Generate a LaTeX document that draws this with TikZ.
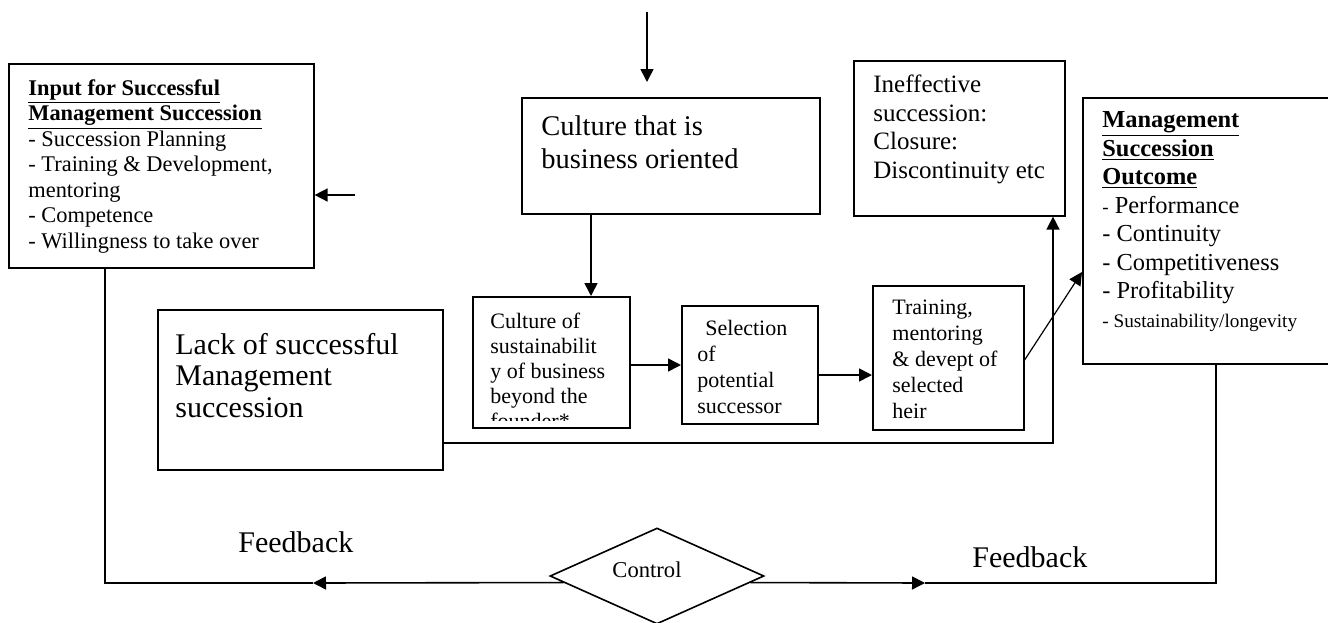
\documentclass[tikz,border=0pt]{standalone}
\usepackage{fontspec}
\setmainfont{Liberation Serif}
\usetikzlibrary{shapes.geometric,arrows.meta}
\begin{document}
\begin{tikzpicture}[x=0.5pt,y=-0.5pt,
  box/.style={draw, line width=0.8pt, inner sep=0pt, anchor=north west},
  txt/.style={anchor=base west, align=left, inner sep=0pt},
  arr/.style={line width=0.8pt, -{Triangle[length=6.5pt,width=6.5pt]}},
  ln/.style={line width=0.8pt},
  fsmall/.style={font=\fontsize{11.2pt}{12.75pt}\selectfont},
  fbig/.style={font=\fontsize{15pt}{15.75pt}\selectfont}]
\useasboundingbox (0,0) rectangle (1328,622);
\clip (0,0) rectangle (1328,622);
% boxes
\node[box, minimum width=152.5pt, minimum height=102pt] (input) at (8,63) {};
\node[box, minimum width=149pt, minimum height=58pt] (culture) at (521,97) {};
\node[box, minimum width=105.5pt, minimum height=77.5pt] (ineff) at (853,60) {};
\node[box, minimum width=132pt, minimum height=133pt] (outcome) at (1082,97) {};
\node[box, minimum width=142.5pt, minimum height=80pt] (lack) at (157,309) {};
\node[box, minimum width=78.5pt, minimum height=65.5pt] (sust) at (472,296) {};
\node[box, minimum width=68pt, minimum height=59pt] (sel) at (681,305) {};
\node[box, minimum width=75.5pt, minimum height=72pt] (train) at (872,285) {};
\node[draw, diamond, line width=0.8pt, minimum width=107pt, minimum height=48pt, inner sep=0pt] (dia) at (657,576) {};
% texts (anchored at the baseline of their last line)
\node[txt, fsmall] (inputT) at (28,248) {\textbf{\underline{Input for Successful}}\\\textbf{\underline{Management Succession}}\\- Succession Planning\\- Training \& Development,\\mentoring\\- Competence\\- Willingness to take over};
\node[txt, font=\fontsize{14.25pt}{16.5pt}\selectfont] (cultureT) at (541,168) {Culture that is\\business oriented};
\node[txt, font=\fontsize{12.5pt}{14.25pt}\selectfont] (ineffT) at (873,178) {Ineffective\\succession:\\Closure:\\Discontinuity etc};
\node[txt, font=\fontsize{12.2pt}{14.25pt}\selectfont] (outcomeT) at (1102,327) {\textbf{\underline{Management}}\\\textbf{\underline{Succession}}\\\textbf{\underline{Outcome}}\\{\fontsize{9.5pt}{10pt}\selectfont -} Performance\\- Continuity\\- Competitiveness\\- Profitability\\{\fontsize{9.6pt}{10pt}\selectfont - Sustainability/longevity}};
\node[txt, fbig] (lackT) at (175,417) {Lack of successful\\Management\\succession};
\begin{scope}
\clip (sust.north west) rectangle ([yshift=4pt]sust.south east);
\node[txt, font=\fontsize{11pt}{12.5pt}\selectfont] (sustT) at (490,428) {Culture of\\sustainabilit\\y of business\\beyond the\\founder*};
\end{scope}
\node[txt, font=\fontsize{11pt}{13pt}\selectfont] (selT) at (697,413) {\hspace*{4pt}Selection\\of\\potential\\successor};
\node[txt, font=\fontsize{11pt}{12.9pt}\selectfont] (trainT) at (892,418) {Training,\\mentoring\\\& devept of\\selected\\heir};
\node[txt, fbig] (fbLT) at (238,552) {Feedback};
\node[txt, fbig] (fbRT) at (972,567) {Feedback};
\node[inner sep=0pt, font=\fontsize{11.3pt}{12pt}\selectfont] (ctlT) at (647,570) {Control};
% helper coordinates
\coordinate (topA) at (647,12);
\coordinate (topB) at (647,82);
\coordinate (inA) at (355,195);
\coordinate (cx) at (591,0);
\coordinate (y365) at (0,365);
\coordinate (y375) at (0,375);
\coordinate (y360) at (0,360);
\coordinate (y272) at (0,272);
\coordinate (lk) at (1053,443);
\coordinate (fbL) at (313,583);
\coordinate (cL) at (105,583);
\coordinate (fbR) at (925,583);
\coordinate (cR) at (1216,583);
% connectors
\draw[arr] (topA) -- (topB);
\draw[arr] (inA) -- (inA -| input.east);
\draw[arr] (culture.south -| cx) -- (sust.north -| cx);
\draw[arr] (sust.east |- y365) -- (sel.west |- y365);
\draw[arr] (sel.east |- y375) -- (train.west |- y375);
\draw[line width=0.6pt, -{Triangle[length=6.5pt,width=6.5pt]}] (train.east |- y360) -- (outcome.west |- y272);
\draw[arr] (lack.east |- lk) -- (lk) -- (ineff.south -| lk);
\draw[arr] (dia.184.4) -- (fbL);
\draw[ln] (fbL) -- (cL) -- (cL |- input.south);
\draw[arr] (dia.-4.4) -- (fbR);
\draw[ln] (fbR) -- (cR) -- (cR |- outcome.south);
\end{tikzpicture}
\end{document}
